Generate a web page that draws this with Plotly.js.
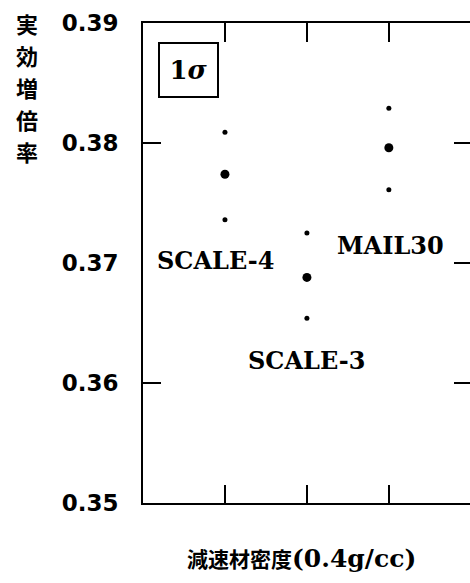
<!DOCTYPE html>
<html>
<head>
<meta charset="utf-8">
<script src="https://cdn.plot.ly/plotly-3.0.1.min.js"></script>
<style>
  html, body { margin: 0; padding: 0; background: #fff; overflow: hidden; }
  #chart { width: 470px; height: 583px; }
</style>
</head>
<body>
<div id="chart"></div>
<script>
// Effective multiplication factor by code library, with its 1σ band
const codes   = ['SCALE-4', 'SCALE-3', 'MAIL30'];
const codePos = [1, 2, 3];
const keff    = [0.3774, 0.3688, 0.3796];
const kUpper  = [0.3809, 0.3725, 0.3829];
const kLower  = [0.3736, 0.3654, 0.3761];

const yTicks  = [0.35, 0.36, 0.37, 0.38, 0.39];
const yLabels = ['0.35', '0.36', '0.37', '0.38', '0.39'];

const yTitleChars = ['実', '効', '増', '倍', '率'];
const xTitleJa = '減速材密度';
const xTitleUnit = '(0.4g/cc)';

const xRange = [0, 3.99];
const yRange = [0.35, 0.39];

const W = 470, H = 583;
const M = { l: 143, r: 0, t: 23, b: 80 };

const traces = [
  { // 1σ bounds
    x: codePos.concat(codePos),
    y: kUpper.concat(kLower),
    mode: 'markers', type: 'scatter',
    marker: { color: '#000', size: 5 },
    hoverinfo: 'skip', showlegend: false
  },
  { // central values
    x: codePos, y: keff, text: codes,
    mode: 'markers', type: 'scatter',
    marker: { color: '#000', size: 9 },
    showlegend: false
  },
  // carriers for the tick-only frame axes
  { x: [], y: [], xaxis: 'x2', yaxis: 'y2', type: 'scatter', showlegend: false },
  { x: [], y: [], xaxis: 'x', yaxis: 'y3', type: 'scatter', showlegend: false }
];

const frame = { showgrid: false, zeroline: false, linecolor: '#000', linewidth: 2,
                tickcolor: '#000', tickwidth: 2 };

const labelFont = { family: 'DejaVu Serif', size: 24, color: '#000', weight: 'bold' };

// page pixel -> paper fraction
function px(xp, yp) {
  const w = W - M.l - M.r, h = H - M.t - M.b;
  return { x: (xp - M.l) / w, y: (H - M.b - yp) / h };
}

const annotations = [
  { x: 0.88, y: 0.37025, xref: 'x', yref: 'y', text: codes[0], showarrow: false, font: labelFont },
  { x: 2.0,  y: 0.3619,  xref: 'x', yref: 'y', text: codes[1], showarrow: false, font: labelFont },
  { x: 3.02, y: 0.3715,  xref: 'x', yref: 'y', text: codes[2], showarrow: false, font: labelFont },
  { // sigma level box
    x: 0.555, y: 0.38608, xref: 'x', yref: 'y', showarrow: false,
    text: '1<i>σ</i>', width: 57, height: 52, bordercolor: '#000', borderwidth: 2,
    borderpad: 0, bgcolor: '#fff',
    font: { family: 'DejaVu Serif', size: 26, color: '#000', weight: 'bold' }
  }
];

// vertical y-axis title, one glyph per line
const yTitleY = [23, 55, 87, 119, 151];
yTitleChars.forEach((ch, i) => {
  const p = px(27, yTitleY[i]);
  annotations.push({
    x: p.x, y: p.y, xref: 'paper', yref: 'paper', xanchor: 'center', yanchor: 'middle',
    showarrow: false, text: ch, borderpad: 0,
    font: { family: 'Noto Sans CJK JP', size: 22, color: '#000', weight: 'bold' }
  });
});

// x-axis title
const xt = px(301, 558);
annotations.push({
  x: xt.x, y: xt.y, xref: 'paper', yref: 'paper', xanchor: 'center', yanchor: 'middle',
  showarrow: false,
  text: xTitleJa + '<span style="font-family:DejaVu Serif;font-size:25px;font-weight:bold">' + xTitleUnit + '</span>',
  font: { family: 'Noto Sans CJK JP', size: 21, color: '#000', weight: 'bold' }
});

const layout = {
  width: W, height: H,
  margin: M,
  paper_bgcolor: '#fff', plot_bgcolor: '#fff',
  xaxis: Object.assign({}, frame, {
    range: xRange, showline: true, tickvals: codePos, ticks: 'inside',
    ticklen: 18, showticklabels: false
  }),
  xaxis2: Object.assign({}, frame, {
    range: xRange, overlaying: 'x', side: 'top', anchor: 'y2', showline: true,
    tickvals: codePos, ticks: 'inside', ticklen: 19, showticklabels: false
  }),
  yaxis: Object.assign({}, frame, {
    range: yRange, showline: true, tickvals: yTicks, ticktext: yLabels, ticks: '',
    ticklabelstandoff: 18,
    tickfont: { family: 'DejaVu Sans', size: 23, color: '#000', weight: 'bold' }
  }),
  yaxis2: Object.assign({}, frame, {
    range: yRange, overlaying: 'y', side: 'right', anchor: 'x2', showline: false,
    tickvals: [0.36, 0.37, 0.38], ticks: 'inside', ticklen: 16, showticklabels: false
  }),
  yaxis3: Object.assign({}, frame, {
    range: yRange, overlaying: 'y', side: 'left', showline: false,
    tickvals: [0.36, 0.38], ticks: 'inside', ticklen: 18, showticklabels: false
  }),
  annotations: annotations
};

Plotly.newPlot('chart', traces, layout, { displayModeBar: false, staticPlot: true });
</script>
</body>
</html>
